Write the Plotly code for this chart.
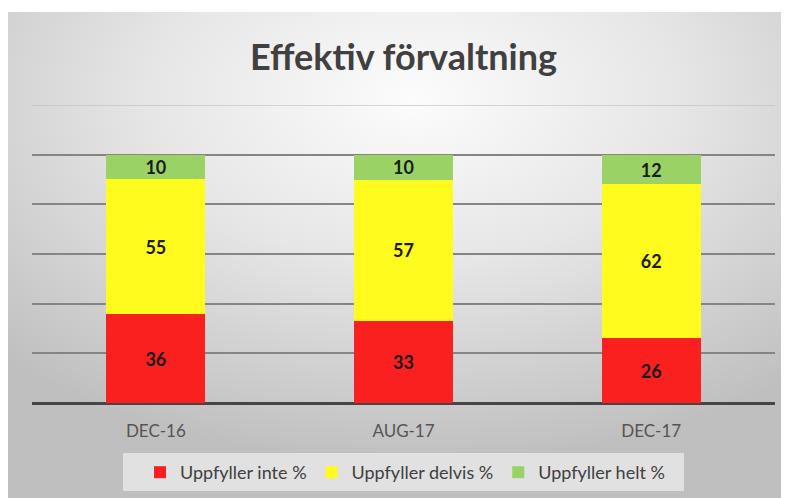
import base64
import plotly.graph_objects as go

categories = ["DEC-16", "AUG-17", "DEC-17"]
series_names = ["Uppfyller inte %", "Uppfyller delvis %", "Uppfyller helt %"]
inte = [36, 33, 26]
delvis = [55, 57, 62]
helt = [10, 10, 12]
y_ticks = [0, 20, 40, 60, 80, 100]

colors = ["#fa2020", "#fffb1f", "#9bd266"]

OFF = 8  # page body margin
W, H = 789 - OFF, 498 - OFF
ML, MR, MT, MB = 32 - OFF, 14, 105 - OFF, 95
PW, PH = W - ML - MR, H - MT - MB

svg = f"""<svg xmlns='http://www.w3.org/2000/svg' width='{W}' height='{H}' viewBox='0 0 {W} {H}' preserveAspectRatio='none'>
<defs><radialGradient id='g' cx='52%' cy='18%' r='75%'>
<stop offset='0%' stop-color='#fcfcfc'/><stop offset='45%' stop-color='#e6e6e6'/><stop offset='100%' stop-color='#bfbfbf'/>
</radialGradient></defs>
<rect width='100%' height='100%' fill='url(#g)'/></svg>"""
src = "data:image/svg+xml;base64," + base64.b64encode(svg.encode()).decode()

fig = go.Figure()
for name, vals, col in zip(series_names, [inte, delvis, helt], colors):
    fig.add_trace(go.Bar(
        x=categories, y=vals, name=name,
        marker=dict(color=col, line=dict(width=0)),
        text=[str(v) for v in vals], textposition="inside",
        insidetextanchor="middle", textangle=0,
        textfont=dict(family="Lato", size=18, color="#1a1a1a", weight="bold"),
        hoverinfo="skip",
    ))

x0 = -ML / PW
x1 = (W - ML) / PW
ytop = (H - MB - 4) / PH
ybot = -MB / PH


def px_x(fx):
    return (fx - ML) / PW


def px_y(fy):
    return (H - MB - fy) / PH


fig.update_layout(
    width=W, height=H,
    margin=dict(l=ML, r=MR, t=MT, b=MB),
    barmode="stack", barnorm="percent", bargap=0.6,
    uniformtext=dict(minsize=18, mode="show"),
    paper_bgcolor="white", plot_bgcolor="rgba(0,0,0,0)",
    images=[dict(source=src, xref="paper", yref="paper", x=x0, y=ytop,
                 sizex=x1 - x0, sizey=ytop - ybot, sizing="stretch",
                 xanchor="left", yanchor="top", layer="below")],
    title=dict(text="Effektiv förvaltning", x=0.5, xref="paper", xanchor="center",
               y=1 - (57 - OFF) / H, yanchor="middle",
               font=dict(family="Lato", size=36, color="#404040", weight="bold")),
    xaxis=dict(showgrid=False, ticks="outside", ticklen=13, tickcolor="rgba(0,0,0,0)",
               tickfont=dict(family="Lato", size=17, color="#555555"),
               showline=False, zeroline=False),
    yaxis=dict(range=[0, 120], tickvals=y_ticks, showticklabels=False,
               showgrid=True, gridcolor="#858585", gridwidth=1.5,
               zeroline=True, zerolinecolor="#454545", zerolinewidth=3),
    legend=dict(orientation="h", x=397 / W, xref="container", xanchor="center",
                y=1 - 446 / H, yref="container", yanchor="top",
                bgcolor="rgba(0,0,0,0)", itemwidth=30,
                font=dict(family="Lato", size=18, color="#404040"),
                traceorder="normal"),
    shapes=[
        dict(type="line", xref="paper", yref="y", x0=0, x1=1, y0=120, y1=120,
             line=dict(color="rgba(190,190,190,0.6)", width=2), layer="below"),
        dict(type="rect", xref="paper", yref="paper",
             x0=px_x(115), x1=px_x(676), y0=px_y(445), y1=px_y(483),
             fillcolor="rgba(240,240,240,0.7)", line=dict(width=0), layer="above"),
    ],
    showlegend=True,
)

fig.write_html("out.html")
